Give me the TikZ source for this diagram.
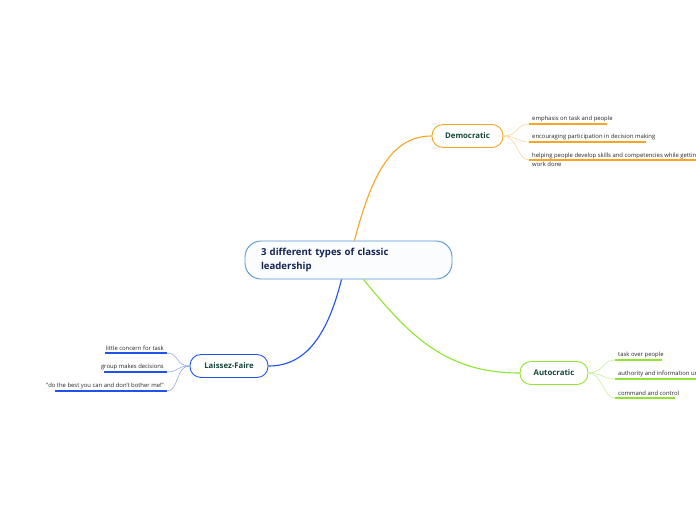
\documentclass[tikz,border=0pt]{standalone}
\usepackage{fontspec}
\setmainfont{Open Sans}
\usepackage{tikz}
\usetikzlibrary{calc}
\definecolor{DemOrange}{RGB}{246,166,35}
\definecolor{DemLight}{RGB}{250,208,140}
\definecolor{AutGreen}{RGB}{142,230,48}
\definecolor{AutLight}{RGB}{190,240,140}
\definecolor{LaiBlue}{RGB}{32,82,238}
\definecolor{LaiLight}{RGB}{130,160,245}
\definecolor{CoreBlue}{RGB}{84,150,212}
\definecolor{CoreFill}{RGB}{250,252,254}
\definecolor{TitleInk}{RGB}{22,36,82}
\definecolor{TopicInk}{RGB}{20,70,58}
\definecolor{LeafInk}{RGB}{40,40,40}

\begin{document}
\begin{tikzpicture}[x=1pt,y=-1pt,
  core/.style={draw=CoreBlue,fill=CoreFill,line width=0.9pt,rounded corners=16pt,
               minimum width=207pt,minimum height=38pt,text width=175pt,
               align=left,inner xsep=16pt,text=TitleInk,
               font=\fontsize{9.6}{14}\selectfont\bfseries},
  topic/.style={fill=white,line width=0.9pt,rounded corners=11pt,
                minimum height=23pt,inner xsep=12pt,text=TopicInk,
                font=\fontsize{7.8}{9}\selectfont\bfseries},
  leaf/.style={inner xsep=3pt,inner ysep=2pt,text=LeafInk,
               font=\fontsize{5.9}{8.5}\selectfont},
  under/.style={line width=1.4pt},
  twig/.style={line width=0.5pt},
]
\useasboundingbox[fill=white] (0,0) rectangle (696,520);

% main topics
\node[core] (core) at (348.5,260) {3 different types of classic\\leadership};
\node[topic,draw=DemOrange,minimum width=71pt] (dem) at (467.5,136) {Democratic};
\node[topic,draw=AutGreen,minimum width=68pt] (aut) at (554,373) {Autocratic};
\node[topic,draw=LaiBlue,minimum width=78pt] (lai) at (229,366) {Laissez-Faire};

% main branches
\draw[DemOrange,line width=1.1pt] ([xshift=6pt]core.north)
  .. controls +(18,-70) and +(-38,0) .. (dem.west);
\draw[AutGreen,line width=1.1pt] ([xshift=15pt]core.south)
  .. controls +(45,55) and +(-75,0) .. (aut.west);
\draw[LaiBlue,line width=1.1pt] ([xshift=-7pt]core.south)
  .. controls +(-15,60) and +(35,0) .. (lai.east);

% Democratic leaves
\node[leaf,anchor=south west] (d1) at (529,124) {emphasis on task and people};
\node[leaf,anchor=south west] (d2) at (529,142) {encouraging participation in decision making};
\node[leaf,anchor=west,align=left] (d3) at (529,160)
  {helping people develop skills and competencies while getting\\work done};
\foreach \l/\len in {d1.south west/78,d2.south west/117,d3.west/200} {
  \draw[DemOrange,under] (\l) -- ++(\len,0);
  \draw[DemLight,twig] (dem.east) .. controls +(14,0) and +(-12,0) .. (\l);
}

% Autocratic leaves
\node[leaf,anchor=south west] (a1) at (615,360) {task over people};
\node[leaf,anchor=south west] (a2) at (615,379) {authority and information ur};
\node[leaf,anchor=south west] (a3) at (615,398) {command and control};
\foreach \l/\len in {a1/47,a2/100,a3/60} {
  \draw[AutGreen,under] (\l.south west) -- ++(\len,0);
  \draw[AutLight,twig] (aut.east) .. controls +(14,0) and +(-12,0) .. (\l.south west);
}

% Laissez-Faire leaves
\node[leaf,anchor=south east] (l1) at (167,353) {little concern for task};
\node[leaf,anchor=south east] (l2) at (167,372) {group makes decisions};
\node[leaf,anchor=south east] (l3) at (167,391) {"do the best you can and don't bother me!"};
\foreach \l/\len in {l1/62,l2/63,l3/112} {
  \draw[LaiBlue,under] (\l.south east) -- ++(-\len,0);
  \draw[LaiLight,twig] (lai.west) .. controls +(-14,0) and +(12,0) .. (\l.south east);
}
\end{tikzpicture}
\end{document}
